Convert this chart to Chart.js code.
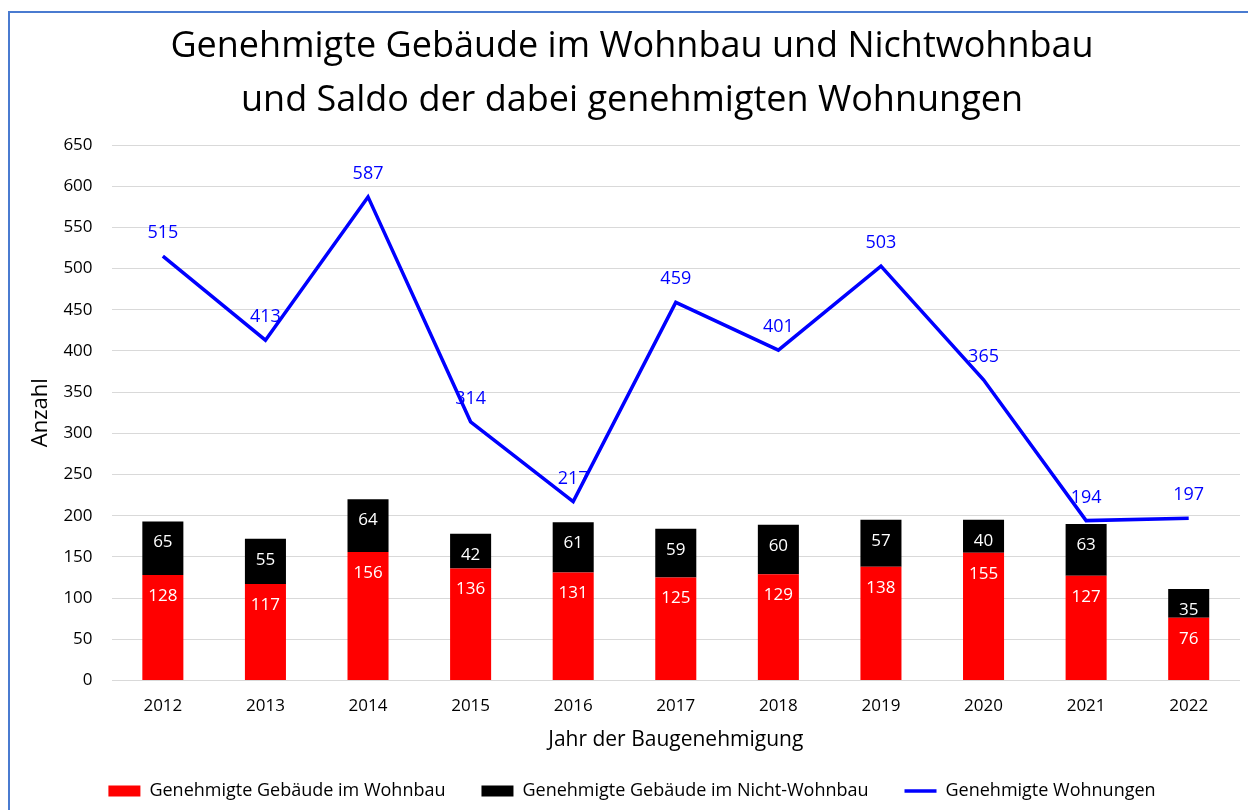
<!DOCTYPE html>
<html>
<head>
<meta charset="utf-8">
<script src="https://cdn.jsdelivr.net/npm/chart.js@4"></script>
<style>
  html, body { margin: 0; padding: 0; background: #fff; }
  #wrap { position: relative; width: 1248px; height: 810px; overflow: hidden; }
  #frame { position: absolute; left: 8px; top: 11px; width: 1260px; height: 820px; border: 2px solid #4a7bd0; box-sizing: border-box; }
  #c { position: absolute; left: 0; top: 0; }
</style>
</head>
<body>
<div id="wrap">
  <div id="frame"></div>
  <canvas id="c" width="1248" height="810"></canvas>
</div>
<script>
// Jahre und Werte aus der Grafik
const years = ["2012", "2013", "2014", "2015", "2016", "2017", "2018", "2019", "2020", "2021", "2022"];
const wohnbau = [128, 117, 156, 136, 131, 125, 129, 138, 155, 127, 76];
const nichtWohnbau = [65, 55, 64, 42, 61, 59, 60, 57, 40, 63, 35];
const wohnungen = [515, 413, 587, 314, 217, 459, 401, 503, 365, 194, 197];

const FONT = "'Open Sans', sans-serif";

// simple value labels (no datalabels plugin available)
const valueLabels = {
  id: 'valueLabels',
  afterDatasetsDraw(chart) {
    const ctx = chart.ctx;
    ctx.save();
    ctx.textAlign = 'center';
    ctx.textBaseline = 'middle';
    chart.data.datasets.forEach((ds, i) => {
      const meta = chart.getDatasetMeta(i);
      meta.data.forEach((el, j) => {
        const v = ds.data[j];
        if (ds.type === 'line') {
          ctx.fillStyle = '#0000ff';
          ctx.font = '18px ' + FONT;
          ctx.fillText(v, el.x, el.y - 23);
        } else {
          ctx.fillStyle = '#ffffff';
          ctx.font = '17px ' + FONT;
          ctx.fillText(v, el.x, el.y + 21);
        }
      });
    });
    ctx.restore();
  }
};

new Chart(document.getElementById('c'), {
  data: {
    labels: years,
    datasets: [
      {
        type: 'bar',
        label: 'Genehmigte Gebäude im Wohnbau',
        data: wohnbau,
        backgroundColor: '#ff0000',
        stack: 's',
        pointStyle: 'rect',
        order: 1
      },
      {
        type: 'bar',
        label: 'Genehmigte Gebäude im Nicht-Wohnbau',
        data: nichtWohnbau,
        backgroundColor: '#000000',
        stack: 's',
        pointStyle: 'rect',
        order: 1
      },
      {
        type: 'line',
        label: 'Genehmigte Wohnungen',
        data: wohnungen,
        borderColor: '#0000ff',
        backgroundColor: '#0000ff',
        borderWidth: 3.5,
        pointRadius: 0,
        pointStyle: 'line',
        tension: 0,
        order: 0
      }
    ]
  },
  options: {
    responsive: false,
    animation: false,
    layout: { padding: { left: 24, right: 8, top: 20, bottom: 0 } },
    datasets: { bar: { barPercentage: 0.4, categoryPercentage: 1.0 } },
    plugins: {
      title: {
        display: true,
        text: ['Genehmigte Gebäude im Wohnbau und Nichtwohnbau', 'und Saldo der dabei genehmigten Wohnungen'],
        color: '#000',
        font: { family: FONT, size: 36, weight: 'normal', lineHeight: 1.5 },
        padding: { top: 0, bottom: 17 }
      },
      legend: {
        position: 'bottom',
        labels: {
          usePointStyle: true,
          pointStyleWidth: 32,
          boxHeight: 11,
          color: '#000',
          padding: 36,
          font: { family: FONT, size: 18 },
          sort: (a, b) => a.datasetIndex - b.datasetIndex
        }
      },
      tooltip: { enabled: false }
    },
    scales: {
      x: {
        stacked: true,
        grid: { display: false, drawTicks: false },
        border: { display: false },
        ticks: { color: '#000', font: { family: FONT, size: 17 }, padding: 16 },
        title: { display: true, text: 'Jahr der Baugenehmigung', color: '#000', font: { family: FONT, size: 21 }, padding: { top: -5, bottom: -7 } }
      },
      y: {
        stacked: true,
        min: 0,
        max: 650,
        ticks: { stepSize: 50, color: '#000', font: { family: FONT, size: 17 }, padding: 19 },
        grid: { color: '#d9d9d9', lineWidth: 1, drawTicks: false },
        border: { display: false },
        title: { display: true, text: 'Anzahl', color: '#000', font: { family: FONT, size: 22 }, padding: { top: 4, bottom: -10 } }
      }
    }
  },
  plugins: [valueLabels]
});
</script>
</body>
</html>
